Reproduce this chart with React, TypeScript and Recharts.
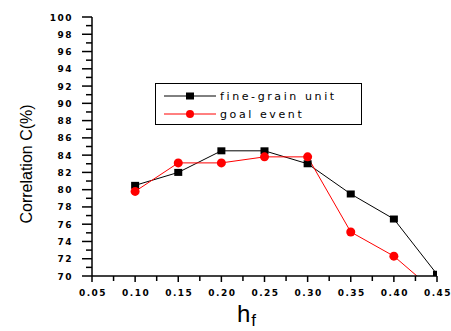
import { LineChart, Line, XAxis, YAxis } from "recharts";

const hfValues = [0.1, 0.15, 0.2, 0.25, 0.3, 0.35, 0.4, 0.45];
const fineGrain = [80.5, 82.0, 84.5, 84.5, 83.0, 79.5, 76.6, 70.2];
const goalEvent = [79.8, 83.1, 83.1, 83.8, 83.8, 75.1, 72.3, 68.0];

const xTicks = [
  0.05, 0.075, 0.1, 0.125, 0.15, 0.175, 0.2, 0.225, 0.25, 0.275, 0.3, 0.325,
  0.35, 0.375, 0.4, 0.425, 0.45,
];
const yTicks = [
  70, 71, 72, 73, 74, 75, 76, 77, 78, 79, 80, 81, 82, 83, 84, 85, 86, 87, 88,
  89, 90, 91, 92, 93, 94, 95, 96, 97, 98, 99, 100,
];

const data = hfValues.map((hf, i) => ({
  hf,
  fine: fineGrain[i],
  goal: goalEvent[i],
}));

const tickFont = {
  fontFamily: "DejaVu Sans",
  fontWeight: "bold" as const,
  fontSize: 9,
  letterSpacing: 1.5,
};

function XTick({ x, y, payload }: any) {
  const major = Math.round(payload.value * 40) % 2 === 0;
  return (
    <g>
      <line x1={x} y1={y} x2={x} y2={y + (major ? 6 : 5)} stroke="#000" strokeWidth={1.5} />
      {major && (
        <text x={x + 1} y={y + 20} textAnchor="middle" fill="#000" style={tickFont}>
          {payload.value.toFixed(2)}
        </text>
      )}
    </g>
  );
}

function YTick({ x, y, payload }: any) {
  const major = payload.value % 2 === 0;
  return (
    <g>
      <line x1={x - (major ? 10 : 6)} y1={y} x2={x} y2={y} stroke="#000" strokeWidth={1.5} />
      {major && (
        <text x={x - 19} y={y + 3.5} textAnchor="end" fill="#000" style={tickFont}>
          {payload.value}
        </text>
      )}
    </g>
  );
}

function Square({ cx, cy }: any) {
  if (cx == null || cy == null) return null;
  return <rect x={cx - 4} y={cy - 3.5} width={8} height={7} fill="#000" />;
}

function Circle({ cx, cy }: any) {
  if (cx == null || cy == null) return null;
  return <circle cx={cx} cy={cy} r={4.5} fill="#ff0000" />;
}

function LegendBox() {
  const rows = [
    { label: "fine-grain unit", color: "#000", square: true },
    { label: "goal event", color: "#ff0000", square: false },
  ];
  return (
    <div
      style={{
        position: "absolute",
        left: 155,
        top: 83,
        border: "1.5px solid #000",
        width: 207,
        height: 42,
        boxSizing: "border-box",
        background: "#fff",
        paddingTop: 3,
      }}
    >
      {rows.map((r) => (
        <div key={r.label} style={{ display: "flex", alignItems: "center", height: 18 }}>
          <svg width={62} height={18} style={{ flex: "none" }}>
            <line x1={8} y1={9} x2={60} y2={9} stroke={r.color} strokeWidth={1} />
            {r.square ? (
              <rect x={30} y={5.5} width={8} height={7} fill={r.color} />
            ) : (
              <circle cx={34} cy={9} r={4} fill={r.color} />
            )}
          </svg>
          <span
            style={{
              fontFamily: "DejaVu Sans",
              fontSize: 11,
              letterSpacing: 2.6,
              color: "#000",
              marginLeft: 2,
              whiteSpace: "nowrap",
            }}
          >
            {r.label}
          </span>
        </div>
      ))}
    </div>
  );
}

export default function App() {
  return (
    <div style={{ position: "absolute", left: 0, top: 0, width: 451, height: 331, background: "#fff" }}>
      <LineChart
        width={451}
        height={331}
        data={data}
        margin={{ top: 17, right: 14, bottom: 25, left: 0 }}
      >
        <XAxis
          type="number"
          dataKey="hf"
          domain={[0.05, 0.45]}
          ticks={xTicks}
          interval={0}
          allowDataOverflow
          height={30}
          tickSize={0}
          tickMargin={0}
          tick={<XTick />}
          axisLine={{ stroke: "#000", strokeWidth: 1.5 }}
          label={{
            content: ({ viewBox }: any) => (
              <text
                x={viewBox.x + 145}
                y={322}
                fill="#000"
                style={{ fontFamily: "Liberation Sans", fontSize: 24 }}
              >
                h
                <tspan dx={1} dy={4} style={{ fontSize: 17 }}>
                  f
                </tspan>
              </text>
            ),
          }}
        />
        <YAxis
          type="number"
          domain={[70, 100]}
          ticks={yTicks}
          interval={0}
          allowDataOverflow
          width={92}
          tickSize={0}
          tickMargin={0}
          tick={<YTick />}
          axisLine={{ stroke: "#000", strokeWidth: 1.5 }}
          label={{
            content: () => (
              <text
                x={32}
                y={164}
                transform="rotate(-90 32 164)"
                textAnchor="middle"
                fill="#000"
                style={{ fontFamily: "Liberation Sans", fontSize: 16 }}
              >
                Correlation C(%)
              </text>
            ),
          }}
        />
        <Line
          dataKey="fine"
          stroke="#000"
          strokeWidth={1}
          dot={<Square />}
          isAnimationActive={false}
        />
        <Line
          dataKey="goal"
          stroke="#ff0000"
          strokeWidth={1}
          dot={<Circle />}
          isAnimationActive={false}
        />
      </LineChart>
      <LegendBox />
    </div>
  );
}
